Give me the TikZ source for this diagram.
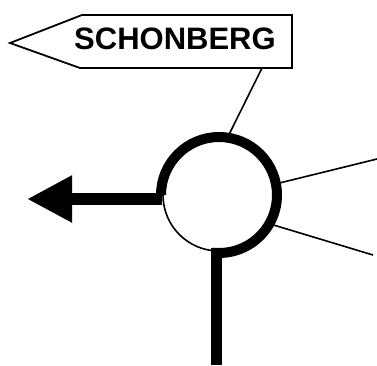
\documentclass[tikz,border=0pt]{standalone}
\usepackage{fontspec}
\setmainfont{Liberation Sans}
\usetikzlibrary{arrows.meta,positioning,calc}

\begin{document}
\begin{tikzpicture}[
    x=1pt, y=-1pt,
    ring/.style={circle, draw, line width=1.6pt, minimum size=112pt, inner sep=0pt},
    thickarc/.style={line width=10pt},
    road/.style={line width=11.5pt},
    spoke/.style={line width=1.6pt},
    signbox/.style={line width=1.8pt, line join=miter},
    label/.style={font=\fontsize{31}{36}\selectfont\bfseries, inner sep=0pt}
]
\useasboundingbox (0,0) rectangle (377,365);
\node[ring] (ring) at (219,195) {};
% y runs downwards, so the arc over the top goes from -180 to 97
\draw[thickarc] ([shift={(180:58)}]ring.center) arc[start angle=-180, end angle=96, radius=58];
\node[label] (name) at (175,39) {SCHONBERG};
\draw[signbox] (292,15) coordinate (sign ne) -- (82,15) -- (10,43) coordinate (sign tip)
    -- (80,68) -- (292,68) coordinate (sign se) -- cycle;
\coordinate (sign foot) at (262,68);
\coordinate (tip) at (27,199);
\coordinate (road end) at (216.5,365);
\coordinate (east a) at (377,159);
\coordinate (east b) at (373,255);
\draw[road, -{Triangle[length=45pt, width=44pt]}] (tip -| ring.west) -- (tip);
\draw[road] (road end |- ring.south) ++(0,-4) -- (road end);
\draw[spoke] (sign foot) -- (ring.82);
\draw[spoke] (ring.11) -- (east a);
\draw[spoke] (ring.-30) -- (east b);
\end{tikzpicture}
\end{document}
